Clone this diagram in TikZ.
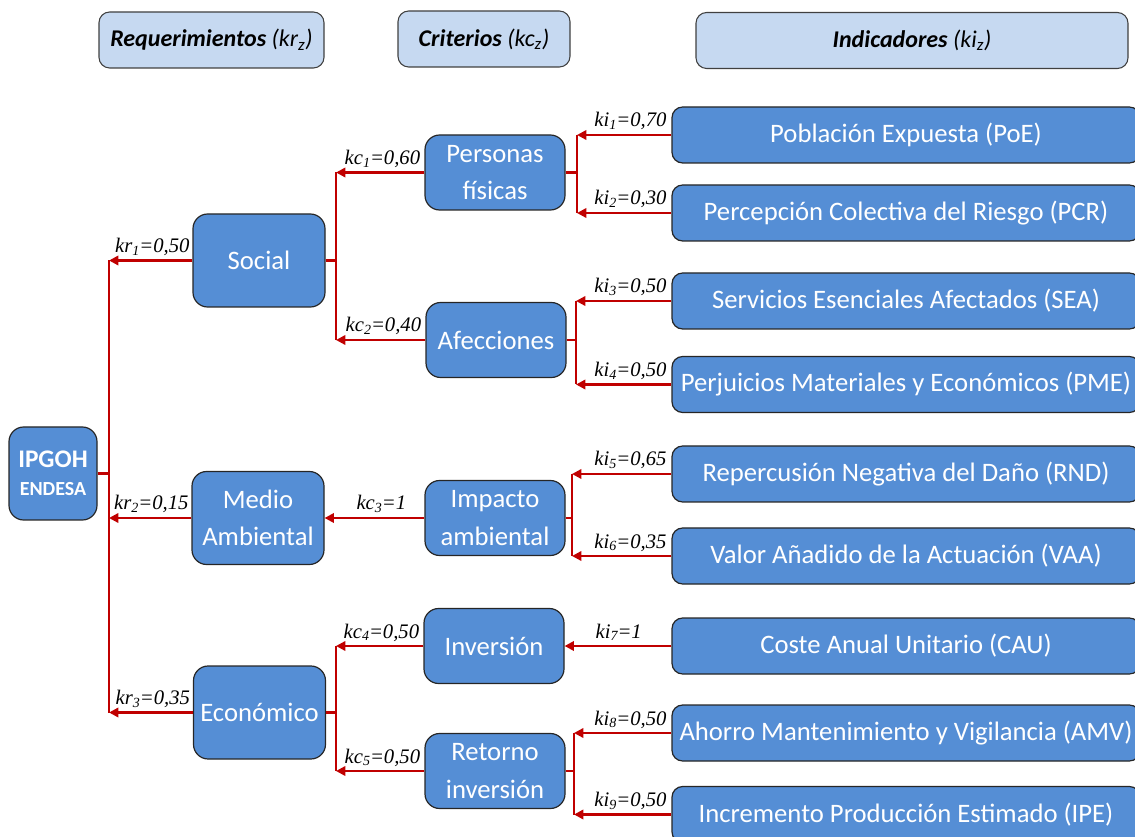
\documentclass[tikz,border=0pt]{standalone}
\usepackage{fontspec}
\setmainfont{Carlito}
\newfontfamily\labfont{Liberation Serif}
\usetikzlibrary{arrows.meta}
\definecolor{boxblue}{HTML}{558ED5}
\definecolor{hdrblue}{HTML}{C6D9F1}
\definecolor{linered}{HTML}{C00000}
\newcommand{\kl}[3]{#1\raisebox{-0.3ex}{\fontsize{10.5}{10.5}\selectfont #2}=#3}
\begin{document}
\begin{tikzpicture}[x=0.75pt,y=-0.75pt,
  bluebox/.style={draw=black!85, line width=0.9pt, fill=boxblue, rounded corners=11pt, text=white, align=center, font=\fontsize{20}{28}\selectfont, inner sep=0pt},
  hdr/.style={draw=black!75, line width=0.8pt, fill=hdrblue, rounded corners=8pt, inner sep=0pt, minimum height=42pt, font=\fontsize{18}{20}\selectfont\bfseries\itshape},
  ind/.style={bluebox, rounded corners=8pt, minimum width=351pt, minimum height=42pt},
  mid/.style={bluebox, minimum width=105pt, minimum height=56.25pt},
  req/.style={bluebox, minimum width=99pt, minimum height=69.75pt},
  wire/.style={linered, line width=2.1pt},
  arr/.style={wire, -{Triangle[length=7pt,width=7pt]}},
  lab/.style={inner sep=0pt, anchor=base east, yshift=6pt, font=\labfont\itshape\fontsize{15.5}{18}\selectfont}
]
\path[use as bounding box, clip] (0,0) rectangle (1135,837);
% headers
\node[hdr, minimum width=168.75pt] (h1) at (211.5,40) {Requerimientos {\mdseries(kr\textsubscript{z})}};
\node[hdr, minimum width=129pt] (h2) at (484,39) {Criterios {\mdseries(kc\textsubscript{z})}};
\node[hdr, minimum width=324pt] (h3) at (912,40.5) {Indicadores {\mdseries(ki\textsubscript{z})}};
% root
\node[bluebox, minimum width=66pt, minimum height=69.75pt, font=\bfseries] (root) at (53,473.5) {{\fontsize{19}{25}\selectfont IPGOH}\\[9pt]{\fontsize{15}{18}\selectfont ENDESA}};
% requirements
\node[req] (social) at (259,260.5) {Social};
\node[req] (medio) at (258,518) {Medio\\Ambiental};
\node[req] (econ) at (259.5,712.5) {Económico};
% criteria
\node[mid] (pers) at (495,172.5) {Personas\\físicas};
\node[mid] (afec) at (496,340) {Afecciones};
\node[mid] (impa) at (495,518) {Impacto\\ambiental};
\node[mid] (inve) at (494,646) {Inversión};
\node[mid] (reto) at (495,771) {Retorno\\inversión};
% indicators
\node[ind] (poe) at (906,135) {Población Expuesta (PoE)};
\node[ind] (pcr) at (906,213) {Percepción Colectiva del Riesgo (PCR)};
\node[ind] (sea) at (906,301) {Servicios Esenciales Afectados (SEA)};
\node[ind] (pme) at (906,384.5) {Perjuicios Materiales y Económicos (PME)};
\node[ind] (rnd) at (906,474) {Repercusión Negativa del Daño (RND)};
\node[ind] (vaa) at (906,556) {Valor Añadido de la Actuación (VAA)};
\node[ind] (cau) at (906,646) {Coste Anual Unitario (CAU)};
\node[ind] (amv) at (906,733) {Ahorro Mantenimiento y Vigilancia (AMV)};
\node[ind] (ipe) at (906,814.5) {Incremento Producción Estimado (IPE)};
% trunk coordinates
\coordinate (t0) at (109,0);
\coordinate (t1) at (336,0);
\coordinate (t2) at (577,0);
\coordinate (t3) at (576,0);
\coordinate (t4) at (572,0);
\coordinate (t5) at (574,0);
\coordinate (t6) at (336,0);
% root level
\draw[wire] (root.east) -- (root.east -| t0);
\draw[wire] (social.west -| t0) -- (econ.west -| t0);
\draw[arr] (social.west) -- (social.west -| t0);
\draw[arr] (medio.west) -- (medio.west -| t0);
\draw[arr] (econ.west) -- (econ.west -| t0);
% social
\draw[wire] (social.east) -- (social.east -| t1);
\draw[wire] (pers.west -| t1) -- (afec.west -| t1);
\draw[arr] (pers.west) -- (pers.west -| t1);
\draw[arr] (afec.west) -- (afec.west -| t1);
% medio
\draw[arr] (impa.west) -- (medio.east);
% econ
\draw[wire] (econ.east) -- (econ.east -| t6);
\draw[wire] (inve.west -| t6) -- (reto.west -| t6);
\draw[arr] (inve.west) -- (inve.west -| t6);
\draw[arr] (reto.west) -- (reto.west -| t6);
% personas
\draw[wire] (pers.east) -- (pers.east -| t2);
\draw[wire] (poe.west -| t2) -- (pcr.west -| t2);
\draw[arr] (poe.west) -- (poe.west -| t2);
\draw[arr] (pcr.west) -- (pcr.west -| t2);
% afecciones
\draw[wire] (afec.east) -- (afec.east -| t3);
\draw[wire] (sea.west -| t3) -- (pme.west -| t3);
\draw[arr] (sea.west) -- (sea.west -| t3);
\draw[arr] (pme.west) -- (pme.west -| t3);
% impacto
\draw[wire] (impa.east) -- (impa.east -| t4);
\draw[wire] (rnd.west -| t4) -- (vaa.west -| t4);
\draw[arr] (rnd.west) -- (rnd.west -| t4);
\draw[arr] (vaa.west) -- (vaa.west -| t4);
% inversion
\draw[arr] (cau.west) -- (inve.east);
% retorno
\draw[wire] (reto.east) -- (reto.east -| t5);
\draw[wire] (amv.west -| t5) -- (ipe.west -| t5);
\draw[arr] (amv.west) -- (amv.west -| t5);
\draw[arr] (ipe.west) -- (ipe.west -| t5);
% labels
\node[lab, xshift=-2pt] (l1) at (social.west) {\kl{kr}{1}{0,50}};
\node[lab, xshift=-2pt] (l2) at (medio.west) {\kl{kr}{2}{0,15}};
\node[lab, xshift=-2pt] (l3) at (econ.west) {\kl{kr}{3}{0,35}};
\node[lab, xshift=-3pt] (l4) at (pers.west) {\kl{kc}{1}{0,60}};
\node[lab, xshift=-3pt] (l5) at (afec.west) {\kl{kc}{2}{0,40}};
\node[lab, xshift=-13.5pt] (l6) at (impa.west) {\kl{kc}{3}{1}};
\node[lab, xshift=-3pt] (l7) at (inve.west) {\kl{kc}{4}{0,50}};
\node[lab, xshift=-3pt] (l8) at (reto.west) {\kl{kc}{5}{0,50}};
\node[lab, xshift=-3.5pt] (l9) at (poe.west) {\kl{ki}{1}{0,70}};
\node[lab, xshift=-3.5pt] (l10) at (pcr.west) {\kl{ki}{2}{0,30}};
\node[lab, xshift=-3.5pt] (l11) at (sea.west) {\kl{ki}{3}{0,50}};
\node[lab, xshift=-3.5pt] (l12) at (pme.west) {\kl{ki}{4}{0,50}};
\node[lab, xshift=-3.5pt] (l13) at (rnd.west) {\kl{ki}{5}{0,65}};
\node[lab, xshift=-3.5pt] (l14) at (vaa.west) {\kl{ki}{6}{0,35}};
\node[lab, xshift=-22pt] (l15) at (cau.west) {\kl{ki}{7}{1}};
\node[lab, xshift=-3.5pt] (l16) at (amv.west) {\kl{ki}{8}{0,50}};
\node[lab, xshift=-3.5pt] (l17) at (ipe.west) {\kl{ki}{9}{0,50}};
\end{tikzpicture}
\end{document}
